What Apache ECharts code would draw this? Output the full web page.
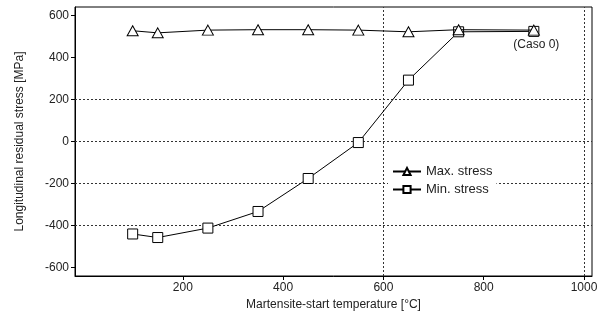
<!DOCTYPE html>
<html><head><meta charset="utf-8">
<script src="https://cdn.jsdelivr.net/npm/echarts@6/dist/echarts.min.js"></script>
<style>html,body{margin:0;padding:0;background:#fff}#c{width:610px;height:323px}</style>
</head><body><div id="c"></div>
<script>
const temps = [100, 150, 250, 350, 450, 550, 650, 750, 900];
const maxStress = [527, 517, 530, 532, 532, 530, 522, 532, 530];
const minStress = [-440, -457, -412, -333, -176, -5, 292, 522, 524];
const xTicks = [200, 400, 600, 800, 1000];
const yTicks = [-600, -400, -200, 0, 200, 400, 600];
const hRefLines = [200, 0, -200, -400];
const vRefLines = [600, 1000];

const font = 'Liberation Sans, Arial, sans-serif';
const txt = '#222';
const chart = echarts.init(document.getElementById('c'), null, {renderer: 'canvas'});
const refStyle = {color: '#333', type: [2, 2], width: 1};
chart.setOption({
  animation: false,
  grid: {left: 75, right: 18, top: 7, bottom: 47, show: true, borderColor: '#000', borderWidth: 1},
  legend: {
    left: 388, top: 162, orient: 'vertical', itemGap: 5, itemWidth: 28, itemHeight: 9,
    backgroundColor: '#fff', padding: [3, 4, 3, 4],
    textStyle: {fontFamily: font, fontSize: 13, color: txt},
    data: ['Max. stress', 'Min. stress']
  },
  xAxis: {
    type: 'value', min: -15, max: 1016,
    name: 'Martensite-start temperature [°C]', nameLocation: 'middle', nameGap: 22,
    nameTextStyle: {fontFamily: font, fontSize: 12, color: txt},
    axisLine: {show: true, onZero: false, lineStyle: {color: '#000'}},
    axisTick: {show: true, customValues: xTicks, length: 4, lineStyle: {color: '#000'}},
    axisLabel: {customValues: xTicks, formatter: v => String(v), fontFamily: font, fontSize: 12, color: txt, margin: 6},
    splitLine: {show: false}
  },
  yAxis: {
    type: 'value', min: -640, max: 640,
    name: 'Longitudinal residual stress [MPa]', nameLocation: 'middle', nameGap: 49,
    nameTextStyle: {fontFamily: font, fontSize: 12, color: txt},
    axisLine: {show: true, onZero: false, lineStyle: {color: '#000'}},
    axisTick: {show: true, customValues: yTicks, length: 4, lineStyle: {color: '#000'}},
    axisLabel: {customValues: yTicks, fontFamily: font, fontSize: 12, color: txt, margin: 6},
    splitLine: {show: false}
  },
  series: [
    {
      name: 'Min. stress', type: 'line', data: temps.map((t, i) => [t, minStress[i]]),
      symbol: 'rect', symbolSize: 10, z: 3,
      lineStyle: {color: '#000', width: 1},
      itemStyle: {color: '#fff', borderColor: '#000', borderWidth: 1},
      markLine: {
        silent: true, symbol: 'none', label: {show: false}, lineStyle: refStyle, z: 1,
        data: hRefLines.map(v => ({yAxis: v})).concat(vRefLines.map(v => ({xAxis: v})))
      }
    },
    {
      name: 'Max. stress', type: 'line', data: temps.map((t, i) => [t, maxStress[i]]),
      symbol: 'triangle', symbolSize: [11, 10], z: 4,
      lineStyle: {color: '#000', width: 1},
      itemStyle: {color: '#fff', borderColor: '#000', borderWidth: 1},
      markPoint: {
        symbol: 'circle', symbolSize: 0,
        label: {show: true, formatter: '(Caso 0)', fontFamily: font, fontSize: 12, color: txt, position: 'inside'},
        data: [{coord: [905, 462]}]
      }
    }
  ]
});
</script></body></html>
